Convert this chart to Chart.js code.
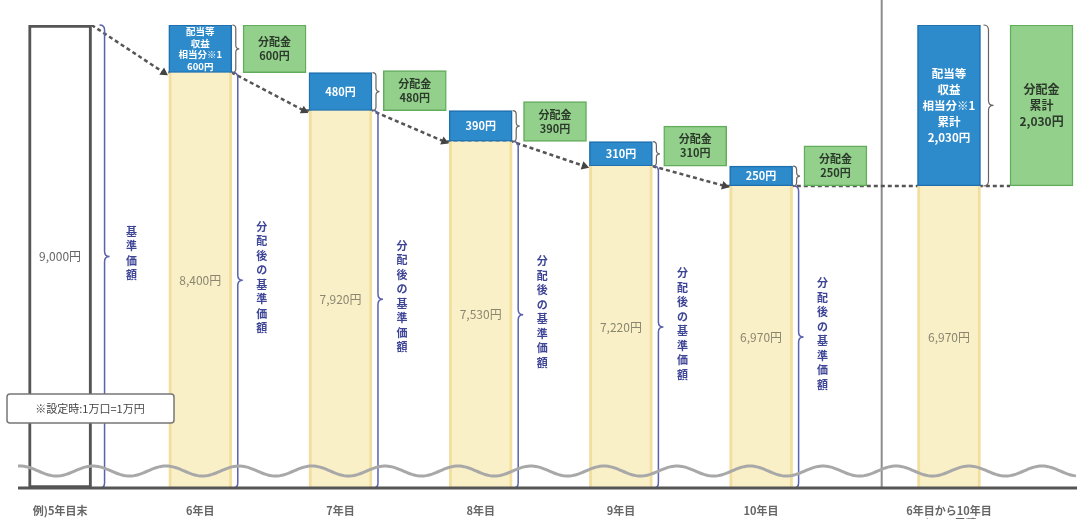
<!DOCTYPE html>
<html lang="ja">
<head>
<meta charset="utf-8">
<title>分配金と基準価額のイメージ</title>
<script src="https://cdn.jsdelivr.net/npm/chart.js@4.4.1/dist/chart.umd.min.js"></script>
<style>
  html, body { margin: 0; padding: 0; background: #fff; }
  #wrap { width: 1077px; height: 519px; position: relative; }
</style>
</head>
<body>
<div id="wrap"><canvas id="chart"></canvas></div>
<script>
// categories
var labels = ['例)5年目末', '6年目', '7年目', '8年目', '9年目', '10年目', ['6年目から10年目', 'までの累積']];
var years = [5, 6, 7, 8, 9, 10];
// 基準価額 (円)
var navValues = [9000, 8400, 7920, 7530, 7220, 6970, 6970];
// 配当等収益相当分 (円)
var incomeValues = [null, 600, 480, 390, 310, 250, 2030];
// 分配金 (円)
var payoutValues = [null, 600, 480, 390, 310, 250, 2030];

// layout (not data)
var Y_MIN = 3160, Y_MAX = 9000;
var X_MIN = 4.70, X_MAX = 12.253;
var SUM_POS = 11.34;      // 累積の列
var SEP_POS = 10.86;      // 区切り線
var SHIFT = 0.53, SUM_SHIFT = 0.66;
var BAR_PX = 63;
var FONT = '"Noto Sans CJK JP", "Noto Sans", sans-serif';

var xsPos = years.concat([SUM_POS]);
var PX_PER_UNIT = (1077 - 18) / (X_MAX - X_MIN);
var HALF = BAR_PX / 2 / PX_PER_UNIT;
var GAP = 5 / PX_PER_UNIT;
var last = xsPos.length - 1;

function fmt(v) { return v.toLocaleString('en-US') + '円'; }

var baseData = xsPos.map(function (x, i) { return { x: x, y: navValues[i] }; });
var incomeData = [], payoutData = [], incomeCats = [], payoutCats = [];
xsPos.forEach(function (x, i) {
    if (incomeValues[i] != null) {
        incomeData.push({ x: x, y: [navValues[i], navValues[i] + incomeValues[i]] });
        incomeCats.push(i);
    }
    if (payoutValues[i] != null) {
        payoutData.push({ x: x + (i === last ? SUM_SHIFT : SHIFT), y: [navValues[i], navValues[i] + payoutValues[i]] });
        payoutCats.push(i);
    }
});

// dotted trend line between bar tops
var trend = [];
for (var i = 0; i < 5; i++) {
    trend.push({ x: xsPos[i] + HALF, y: navValues[i] });
    trend.push({ x: xsPos[i + 1] - HALF - GAP, y: navValues[i + 1] });
}
trend.push({ x: xsPos[5] + HALF, y: navValues[5] });
trend.push({ x: SUM_POS + SUM_SHIFT - HALF, y: navValues[last] });

function incomeText(i) {
    if (i === 1) return ['配当等', '収益', '相当分※1', fmt(incomeValues[i])];
    if (i === last) return ['配当等', '収益', '相当分※1', '累計', fmt(incomeValues[i])];
    return [fmt(incomeValues[i])];
}
function payoutText(i) {
    if (i === last) return ['分配金', '累計', fmt(payoutValues[i])];
    return ['分配金', fmt(payoutValues[i])];
}

function drawLines(ctx, lines, cx, cy, lh) {
    var y0 = cy - (lines.length - 1) * lh / 2;
    lines.forEach(function (t, k) { ctx.fillText(t, cx, y0 + k * lh); });
}

function drawVertical(ctx, str, cx, cy, step) {
    var chars = Array.from(str);
    var y0 = cy - (chars.length - 1) * step / 2;
    chars.forEach(function (c, k) { ctx.fillText(c, cx, y0 + k * step); });
}

function brace(ctx, x, top, bot, w) {
    var mid = (top + bot) / 2;
    ctx.beginPath();
    ctx.moveTo(x - w, top);
    ctx.quadraticCurveTo(x, top, x, top + w);
    ctx.lineTo(x, mid - w);
    ctx.quadraticCurveTo(x, mid, x + w, mid);
    ctx.quadraticCurveTo(x, mid, x, mid + w);
    ctx.lineTo(x, bot - w);
    ctx.quadraticCurveTo(x, bot, x - w, bot);
    ctx.stroke();
}

var decor = {
    id: 'decor',
    beforeDatasetsDraw: function (chart) {
        var ctx = chart.ctx, area = chart.chartArea;
        var sx = chart.scales.x.getPixelForValue(SEP_POS);
        ctx.save();
        ctx.strokeStyle = '#8c8c8c';
        ctx.lineWidth = 2;
        ctx.beginPath(); ctx.moveTo(sx, 0); ctx.lineTo(sx, area.bottom); ctx.stroke();
        ctx.restore();
    },
    afterDatasetsDraw: function (chart) {
        var ctx = chart.ctx, area = chart.chartArea;
        var bars = chart.getDatasetMeta(0).data;
        var blue = chart.getDatasetMeta(1).data;
        var green = chart.getDatasetMeta(2).data;
        ctx.save();
        ctx.textAlign = 'center';
        ctx.textBaseline = 'middle';

        // braces + vertical captions beside base bars
        for (var i = 0; i <= 5; i++) {
            var el = bars[i];
            var bx = el.x + BAR_PX / 2 + (i === 0 ? 13 : 6);
            ctx.strokeStyle = '#5a62ad';
            ctx.lineWidth = 1.5;
            brace(ctx, bx, el.y, area.bottom, 5);
            ctx.fillStyle = '#3e4596';
            ctx.font = 'bold 11px ' + FONT;
            var mid = (el.y + area.bottom) / 2 - 3;
            drawVertical(ctx, i === 0 ? '基準価額' : '分配後の基準価額', bx + (i === 0 ? 27 : 24), mid, 14.5);
        }

        // grey braces next to blue boxes
        blue.forEach(function (el, j) {
            var isSum = incomeCats[j] === last;
            ctx.strokeStyle = '#666';
            ctx.lineWidth = 1.2;
            brace(ctx, el.x + BAR_PX / 2 + (isSum ? 8 : 4), el.y, el.base, isSum ? 5 : 3.5);
        });

        // values inside base bars
        bars.forEach(function (el, i) {
            ctx.fillStyle = i === 0 ? '#666' : '#8a8670';
            ctx.font = '12px ' + FONT;
            ctx.fillText(fmt(navValues[i]), el.x, (el.y + area.bottom) / 2);
        });

        // blue box text
        blue.forEach(function (el, j) {
            var i = incomeCats[j];
            var lines = incomeText(i);
            ctx.fillStyle = '#fff';
            if (i === last) { ctx.font = 'bold 11.5px ' + FONT; drawLines(ctx, lines, el.x, (el.y + el.base) / 2, 16); }
            else if (lines.length > 1) { ctx.font = 'bold 9.5px ' + FONT; drawLines(ctx, lines, el.x, (el.y + el.base) / 2, 11.5); }
            else { ctx.font = 'bold 11px ' + FONT; drawLines(ctx, lines, el.x, (el.y + el.base) / 2, 13); }
        });

        // green box text
        green.forEach(function (el, j) {
            var i = payoutCats[j];
            ctx.fillStyle = '#2c3a2c';
            ctx.font = 'bold ' + (i === last ? '12px ' : '11px ') + FONT;
            drawLines(ctx, payoutText(i), el.x, (el.y + el.base) / 2, i === last ? 16 : 14);
        });

        // broken-axis wave
        ctx.strokeStyle = '#a8a8a8';
        ctx.lineWidth = 3;
        ctx.beginPath();
        for (var x = area.left; x <= area.right; x += 2) {
            var y = 471 - 5 * Math.cos(2 * Math.PI * (x - 20) / 73);
            if (x === area.left) ctx.moveTo(x, y); else ctx.lineTo(x, y);
        }
        ctx.stroke();

        // baseline
        ctx.strokeStyle = '#555';
        ctx.lineWidth = 3;
        ctx.beginPath(); ctx.moveTo(area.left, area.bottom); ctx.lineTo(area.right, area.bottom); ctx.stroke();

        // note box
        ctx.fillStyle = '#fff';
        ctx.strokeStyle = '#777';
        ctx.lineWidth = 1.5;
        ctx.beginPath();
        ctx.roundRect(7, 394, 167, 29, 3);
        ctx.fill(); ctx.stroke();
        ctx.fillStyle = '#444';
        ctx.font = '11px ' + FONT;
        ctx.fillText('※設定時:1万口=1万円', 90, 409);
        ctx.restore();
    }
};

new Chart(document.getElementById('chart'), {
    type: 'bar',
    data: {
        datasets: [{
            label: '基準価額',
            data: baseData,
            base: Y_MIN,
            barThickness: BAR_PX,
            grouped: false,
            backgroundColor: function (c) { return c.dataIndex === 0 ? '#ffffff' : '#faf0c8'; },
            borderColor: function (c) { return c.dataIndex === 0 ? '#555555' : '#f2de9e'; },
            borderWidth: function (c) { return c.dataIndex === 0 ? 3 : { left: 3, right: 3, top: 0, bottom: 0 }; },
            borderSkipped: false
        }, {
            label: '配当等収益相当分',
            data: incomeData,
            barThickness: BAR_PX,
            grouped: false,
            backgroundColor: '#2e8bcb',
            borderColor: '#1d6fae',
            borderWidth: 1.5,
            borderSkipped: false
        }, {
            label: '分配金',
            data: payoutData,
            barThickness: BAR_PX,
            grouped: false,
            minBarLength: 40,
            backgroundColor: '#93d08b',
            borderColor: '#62ad5c',
            borderWidth: 1.5,
            borderSkipped: false
        }, {
            type: 'line',
            label: 'trend',
            data: trend,
            order: 10,
            borderColor: '#555',
            borderWidth: 2.5,
            borderDash: [4, 3],
            tension: 0,
            pointStyle: 'triangle',
            pointBackgroundColor: '#444',
            pointBorderWidth: 0,
            pointRadius: function (c) { return (c.dataIndex % 2 === 1 && c.dataIndex < trend.length - 1) ? 5 : 0; },
            pointRotation: function (c) {
                var k = c.dataIndex;
                if (k === 0) return 0;
                var sx = c.chart.scales.x, sy = c.chart.scales.y;
                var dx = sx.getPixelForValue(trend[k].x) - sx.getPixelForValue(trend[k - 1].x);
                var dy = sy.getPixelForValue(trend[k].y) - sy.getPixelForValue(trend[k - 1].y);
                return 90 + Math.atan2(dy, dx) * 180 / Math.PI;
            }
        }]
    },
    options: {
        responsive: true,
        maintainAspectRatio: false,
        animation: false,
        events: [],
        layout: { padding: { left: 18, right: 0, top: 25, bottom: 0 } },
        plugins: { legend: { display: false }, tooltip: { enabled: false } },
        scales: {
            x: {
                type: 'linear',
                offset: false,
                min: X_MIN,
                max: X_MAX,
                afterBuildTicks: function (s) { s.ticks = xsPos.map(function (v) { return { value: v }; }); },
                afterFit: function (s) { s.height = 31; },
                grid: { display: false, offset: false },
                border: { display: false },
                ticks: {
                    autoSkip: false,
                    maxRotation: 0,
                    padding: 8,
                    color: '#666',
                    font: { size: 11, weight: 'bold', family: FONT },
                    callback: function (v, i) { return labels[i]; }
                }
            },
            y: { display: false, min: Y_MIN, max: Y_MAX }
        }
    },
    plugins: [decor]
});
</script>
</body>
</html>
